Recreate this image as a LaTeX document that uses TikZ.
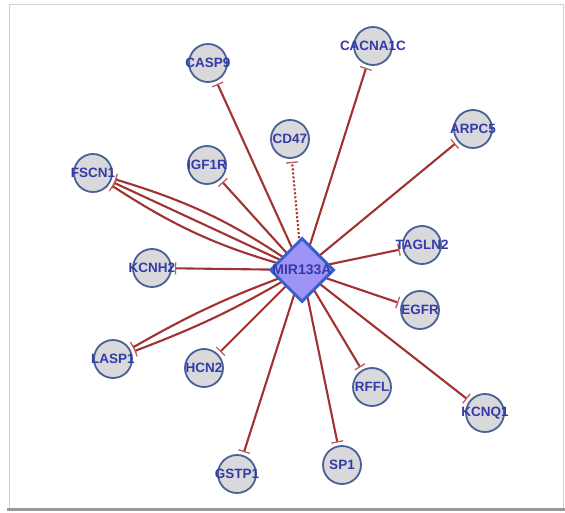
\documentclass[tikz,border=0pt]{standalone}
\usepackage{fontspec}
\setmainfont{Liberation Sans}
\usetikzlibrary{arrows.meta,shapes.geometric,backgrounds}

\definecolor{genefill}{RGB}{217,217,220}
\definecolor{geneline}{RGB}{72,98,150}
\definecolor{genetext}{RGB}{52,58,168}
\definecolor{mirfill}{RGB}{158,148,245}
\definecolor{mirline}{RGB}{55,95,205}
\definecolor{edgered}{RGB}{160,50,50}
\definecolor{tipred}{RGB}{196,92,92}

\newcommand{\genename}[1]{\makebox[0pt]{#1}}

\begin{document}
\begin{tikzpicture}[x=1pt,y=-1pt]

	\tikzstyle{gene} = [
		circle,
		fill=genefill,
		draw=geneline,
		line width=1.8pt,
		minimum size=38pt,
		inner sep=0pt,
		text=genetext,
		font=\fontsize{13.5}{14}\selectfont\bfseries
	]
	\tikzstyle{mirna} = [
		diamond,
		fill=mirfill,
		draw=mirline,
		line width=3pt,
		minimum size=64pt,
		inner sep=0pt,
		text=genetext,
		font=\fontsize{14}{15}\selectfont\bfseries
	]
	\tikzstyle{inhibit} = [
		draw=edgered,
		line width=2.1pt,
		-{Bar[width=12pt,line width=1.3pt,color=tipred]},
		shorten >=3pt
	]

	\useasboundingbox (0,0) rectangle (565,513);

	\node (mir) [style=mirna] at (302,270) {\genename{MIR133A}};

	\node (casp9) [style=gene] at (208,63) {\genename{CASP9}};
	\node (cacna1c) [style=gene] at (373,46) {\genename{CACNA1C}};
	\node (arpc5) [style=gene] at (473,129) {\genename{ARPC5}};
	\node (cd47) [style=gene] at (290,139) {\genename{CD47}};
	\node (igf1r) [style=gene] at (207,165) {\genename{IGF1R}};
	\node (fscn1) [style=gene] at (93,173) {\genename{FSCN1}};
	\node (tagln2) [style=gene] at (422,245) {\genename{TAGLN2}};
	\node (kcnh2) [style=gene] at (152,268) {\genename{KCNH2}};
	\node (egfr) [style=gene] at (420,310) {\genename{EGFR}};
	\node (lasp1) [style=gene] at (113,359) {\genename{LASP1}};
	\node (hcn2) [style=gene] at (204,368) {\genename{HCN2}};
	\node (rffl) [style=gene] at (372,387) {\genename{RFFL}};
	\node (kcnq1) [style=gene] at (485,413) {\genename{KCNQ1}};
	\node (sp1) [style=gene] at (342,465) {\genename{SP1}};
	\node (gstp1) [style=gene] at (237,474) {\genename{GSTP1}};

	\begin{pgfonlayer}{background}
		% frame
		\fill[white] (0,0) rectangle (565,513);
		\draw[black!18, line width=1pt] (9,508) -- (9,5) -- (563,5) -- (563,508);
		\draw[black!40, line width=3.5pt] (7,509.5) -- (565,509.5);

		\draw [style=inhibit] (mir.center) -- (casp9);
		\draw [style=inhibit] (mir.center) -- (cacna1c);
		\draw [style=inhibit] (mir.center) -- (arpc5);
		\draw [style=inhibit, dash pattern=on 2pt off 2pt] (mir.center) -- (cd47);
		\draw [style=inhibit] (mir.center) -- (igf1r);
		\draw [style=inhibit] (mir.center) to[bend left=9] (fscn1);
		\draw [style=inhibit] (mir.center) -- (fscn1);
		\draw [style=inhibit] (mir.center) to[bend right=9] (fscn1);
		\draw [style=inhibit] (mir.center) -- (tagln2);
		\draw [style=inhibit] (mir.center) -- (kcnh2);
		\draw [style=inhibit] (mir.center) -- (egfr);
		\draw [style=inhibit] (mir.center) to[bend left=5] (lasp1);
		\draw [style=inhibit] (mir.center) to[bend right=5] (lasp1);
		\draw [style=inhibit] (mir.center) -- (hcn2);
		\draw [style=inhibit] (mir.center) -- (rffl);
		\draw [style=inhibit] (mir.center) -- (kcnq1);
		\draw [style=inhibit] (mir.center) -- (sp1);
		\draw [style=inhibit] (mir.center) -- (gstp1);
	\end{pgfonlayer}

\end{tikzpicture}
\end{document}
